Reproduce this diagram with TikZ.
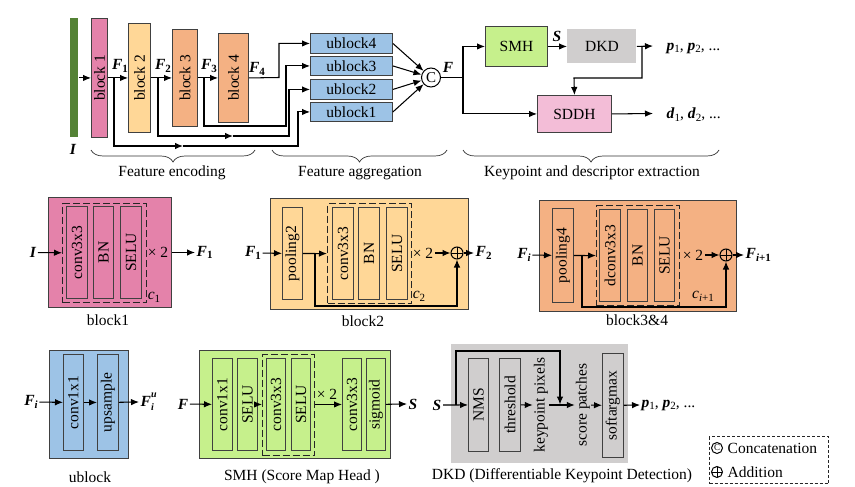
\documentclass[tikz,border=0pt]{standalone}
\usepackage{fontspec}
\setmainfont{Liberation Serif}
\usetikzlibrary{arrows.meta,decorations.pathreplacing,calc}
\definecolor{gbar}{HTML}{548235}
\definecolor{pinkA}{HTML}{E482AA}
\definecolor{orL}{HTML}{FFD797}
\definecolor{sal}{HTML}{F4B183}
\definecolor{blU}{HTML}{9DC3E6}
\definecolor{grS}{HTML}{C6F08C}
\definecolor{grD}{HTML}{D0CECE}
\definecolor{pkS}{HTML}{F3BDD7}
\newcommand\bi[1]{\textbf{\textit{#1}}}
\newcommand\sbs[1]{\raisebox{-0.4ex}{\fontsize{11}{11}\selectfont #1}}
\newcommand\sps[1]{\raisebox{1.2ex}{\fontsize{10}{10}\selectfont #1}}
\newcommand\sbl[1]{\raisebox{-0.6ex}{\fontsize{10}{10}\selectfont #1}}
\newcommand\bx[7]{\node[blk,#6,minimum width={#4pt-#2pt},minimum height={#5pt-#3pt}] (#1) at (#2,#3) {#7};}
\newcommand\rt[1]{\rotatebox{90}{#1}}
\tikzset{
  arr/.style={-{Latex[length=8pt,width=6.5pt]}, line width=1.05pt},
  ln/.style={line width=1.05pt},
  blk/.style={draw=black!75, line width=0.9pt, inner sep=0pt, anchor=north west},
  dsh/.style={draw=black!85, fill=none, dash pattern=on 7pt off 3pt, line width=1.4pt},
  lbl/.style={inner sep=1.5pt},
  opl/.style={circle, draw, line width=1pt, minimum size=12pt, inner sep=0pt,
    path picture={\draw[line width=1pt] (path picture bounding box.north) -- (path picture bounding box.south)
      (path picture bounding box.east) -- (path picture bounding box.west);}},
  brc/.style={decorate, decoration={brace, mirror, amplitude=12pt}, line width=0.7pt, draw=black!80},
}
\begin{document}
\begin{tikzpicture}[x=1pt,y=-1pt,font=\fontsize{15.5}{18}\selectfont]
\useasboundingbox (0,0) rectangle (855,487);
% ---------------- top row ----------------
\bx{Ibar}{70}{18}{78}{137}{fill=gbar,draw=none}{}
\node[lbl] (Ilbl) at (73,149) {\bi{I}};
\bx{b1}{91}{18}{107}{137}{fill=pinkA}{\rt{block 1}}
\bx{b2}{128}{23}{150}{132}{fill=orL}{\rt{block 2}}
\bx{b3}{172}{29}{197}{126}{fill=sal}{\rt{block 3}}
\bx{b4}{218}{33}{248}{122}{fill=sal}{\rt{block 4}}
\node[lbl] (lF1) at (120,66) {\bi{F}\sbs{\textbf{1}}};
\node[lbl] (lF2) at (163,66) {\bi{F}\sbs{\textbf{2}}};
\node[lbl] (lF3) at (209,66) {\bi{F}\sbs{\textbf{3}}};
\node[lbl] (lF4) at (257,69) {\bi{F}\sbs{\textbf{4}}};
\bx{u4}{310}{33}{392}{53}{fill=blU}{ublock4}
\bx{u3}{310}{56}{392}{75}{fill=blU}{ublock3}
\bx{u2}{310}{79}{392}{99}{fill=blU}{ublock2}
\bx{u1}{310}{102}{392}{121}{fill=blU}{ublock1}
\draw[arr] (Ibar) -- (b1);
\draw[arr] (b1) -- (b2);
\draw[arr] (b2) -- (b3);
\draw[arr] (b3) -- (b4);
\coordinate (j1) at (114,77.5);
\coordinate (j2) at (158,77.5);
\coordinate (j3) at (204,77.5);
\coordinate (m1) at (183,146);
\coordinate (m2) at (233,136);
\draw[arr] (j1) |- (m1);
\draw[arr] (m1) -- (298,146) |- (u1.west);
\draw[arr] (j2) |- (m2);
\draw[arr] (m2) -- (289,136) |- (u2.west);
\draw[arr] (j3) |- (286,126) |- (u3.west);
\draw[arr] (b4.east) -- (279,77.5) |- (u4.west);
\node[circle,draw,line width=1pt,minimum size=19pt,inner sep=0pt] (cat) at (431,77.5) {\fontsize{15}{15}\selectfont C};
\draw[arr] (u4.east) -- (cat);
\draw[arr] (u3.east) -- (cat);
\draw[arr] (u2.east) -- (cat);
\draw[arr] (u1.east) -- (cat);
\node[lbl] (lF) at (448,67) {\bi{F}};
\coordinate (jF) at (463,77.5);
\draw[ln] (cat) -- (jF);
\bx{smh}{485}{26}{547}{66}{fill=grS}{SMH}
\bx{dkd}{567}{29}{636}{63}{fill=grD,draw=none}{DKD}
\bx{sddh}{537}{95}{611}{132}{fill=pkS}{SDDH}
\draw[arr] (jF) |- (smh.west);
\draw[arr] (jF) |- (sddh.west);
\draw[arr] (smh) -- (dkd);
\node[lbl] (lS) at (557,36) {\bi{S}};
\coordinate (pe) at (653,46);
\draw[arr] (dkd.east) -- (pe);
\node[lbl,anchor=west] (lp) at (665,48) {\bi{p}\sbs{1}, \bi{p}\sbs{2}, ...};
\coordinate (jD) at (642,46);
\draw[arr] (jD) |- (574,78) -- (sddh.north);
\coordinate (de) at (653,113.5);
\draw[arr] (sddh.east) -- (de);
\node[lbl,anchor=west] (ld) at (665,115) {\bi{d}\sbs{1}, \bi{d}\sbs{2}, ...};
% braces
\draw[brc] (91,150) -- (255,150);
\draw[brc] (272,150) -- (447,150);
\draw[brc] (463,150) -- (719,150);
\node[lbl] (t1) at (172,173) {Feature encoding};
\node[lbl] (t2) at (360,173) {Feature aggregation};
\node[lbl] (t3) at (592,173) {Keypoint and descriptor extraction};
% ---------------- block1 ----------------
\bx{B1}{48}{197}{171}{307}{fill=pinkA}{}
\bx{D1}{62}{203}{146}{302}{dsh}{}
\bx{c1a}{66}{206}{87}{298}{fill=pinkA}{\rt{conv3x3}}
\bx{c1b}{93}{206}{113}{298}{fill=pinkA}{\rt{BN}}
\bx{c1c}{120}{206}{141}{298}{fill=pinkA}{\rt{SELU}}
\node[lbl] (x21) at (158,252) {× 2};
\node[lbl] (cc1) at (154,297) {\textit{c}\sbs{1}};
\node[lbl] (I2) at (33,252.5) {\bi{I}};
\draw[arr] (I2) -- (D1);
\node[lbl,anchor=west] (F1o) at (195,252.5) {\bi{F}\sbs{\textbf{1}}};
\draw[arr] (B1.east |- F1o.west) -- (F1o.west);
\node[lbl] (cap1) at (108,320) {block1};
% ---------------- block2 ----------------
\bx{B2}{270}{198}{468}{309}{fill=orL}{}
\bx{P2}{282}{207}{302}{299}{fill=orL}{\rt{pooling2}}
\bx{D2}{327}{203}{411}{303}{dsh}{}
\bx{c2a}{332}{207}{353}{299}{fill=orL}{\rt{conv3x3}}
\bx{c2b}{358}{207}{379}{299}{fill=orL}{\rt{BN}}
\bx{c2c}{386}{207}{407}{299}{fill=orL}{\rt{SELU}}
\node[lbl] (x22) at (423,253) {× 2};
\node[opl] (op2) at (457,253) {};
\node[lbl] (cc2) at (419,296) {\textit{c}\sbs{2}};
\node[lbl] (F1i) at (253,253) {\bi{F}\sbs{\textbf{1}}};
\draw[arr] (F1i) -- (P2);
\draw[arr] (P2) -- (D2);
\coordinate (s2) at (315,253);
\draw[arr] (s2) |- (op2.south |- 0,306) -- (op2.south);
\draw[arr] (x22) -- (op2);
\node[lbl,anchor=west] (F2o) at (474,253) {\bi{F}\sbs{\textbf{2}}};
\draw[arr] (op2) -- (F2o.west);
\node[lbl] (cap2) at (363,321) {block2};
% ---------------- block3&4 ----------------
\bx{B3}{539}{200}{736}{311}{fill=sal}{}
\bx{P4}{552}{208}{573}{302}{fill=sal}{\rt{pooling4}}
\bx{D3}{596}{205}{679}{305}{dsh}{}
\bx{c3a}{599}{209}{620}{301}{fill=sal}{\rt{dconv3x3}}
\bx{c3b}{627}{209}{647}{301}{fill=sal}{\rt{BN}}
\bx{c3c}{654}{209}{674}{301}{fill=sal}{\rt{SELU}}
\node[lbl] (x23) at (693,255) {× 2};
\node[opl] (op3) at (726,255) {};
\node[lbl] (cc3) at (703,296) {\textit{c}\sbs{\textit{i}+1}};
\node[lbl] (Fii) at (524,255) {\bi{F}\sbs{\bi{i}}};
\draw[arr] (Fii) -- (P4);
\draw[arr] (P4) -- (D3);
\coordinate (s3) at (582,255);
\draw[arr] (s3) |- (op3.south |- 0,307) -- (op3.south);
\draw[arr] (x23) -- (op3);
\node[lbl,anchor=west] (F3o) at (744,255) {\bi{F}\sbs{\bi{i}\textbf{+1}}};
\draw[arr] (op3) -- (F3o.west);
\node[lbl] (cap3) at (637,320) {block3\&4};
% ---------------- ublock ----------------
\bx{UB}{49}{350}{128}{458}{fill=blU}{}
\bx{ua}{63}{354}{83}{450}{fill=blU}{\rt{conv1x1}}
\bx{ub}{97}{354}{118}{450}{fill=blU}{\rt{upsample}}
\node[lbl] (Fu1) at (31,402) {\bi{F}\sbs{\bi{i}}};
\draw[arr] (Fu1) -- (ua);
\draw[arr] (ua) -- (ub);
\node[lbl,anchor=west] (Fu2) at (139,402) {\bi{F}\rlap{\sps{\bi{u}}}\sbl{\bi{i}}};
\draw[arr] (ub) -- (Fu2.west);
\node[lbl] (cap4) at (90,477) {ublock};
% ---------------- SMH ----------------
\bx{SM}{199}{350}{390}{458}{fill=grS}{}
\bx{sa}{212}{358}{232}{450}{fill=grS}{\rt{conv1x1}}
\bx{sb}{237}{358}{257}{450}{fill=grS}{\rt{SELU}}
\bx{D4}{262}{354}{314}{455}{dsh}{}
\bx{sc}{266}{358}{285}{450}{fill=grS}{\rt{conv3x3}}
\bx{sd}{291}{358}{310}{450}{fill=grS}{\rt{SELU}}
\bx{se}{342}{358}{361}{450}{fill=grS}{\rt{conv3x3}}
\bx{sf}{366}{358}{385}{450}{fill=grS}{\rt{sigmoid}}
\node[lbl] (x24) at (327,394) {× 2};
\node[lbl] (Fs) at (183,404) {\bi{F}};
\draw[arr] (Fs) -- (sa);
\draw[arr] (sb) -- (sb -| D4.west);
\draw[arr] (D4.east |- se.west) -- (se.west);
\node[lbl,anchor=west] (Ss) at (407,404) {\bi{S}};
\draw[arr] (sf) -- (Ss.west);
\node[lbl] (cap5) at (302,477) {SMH (Score Map Head )};
% ---------------- DKD ----------------
\bx{DK}{451}{344}{628}{463}{fill=grD,draw=none}{}
\bx{nms}{468}{358}{488}{451}{fill=grD}{\rt{NMS}}
\bx{thr}{499}{358}{520}{451}{fill=grD}{\rt{threshold}}
\node[inner sep=1pt] (kp) at (541,405) {\rt{keypoint pixels}};
\node[inner sep=1pt] (sp) at (583,405) {\rt{score patches}};
\bx{sam}{602}{353}{623}{457}{fill=grD}{\rt{softargmax}}
\node[lbl] (Sd) at (437,405) {\bi{S}};
\draw[arr] (Sd) -- (nms);
\coordinate (jS) at (456,404.5);
\coordinate (jK) at (560,404.5);
\draw[arr] (jS) |- (560,351) -- (jK);
\draw[arr] (thr) -- (kp);
\draw[arr] (kp) -- (sp);
\draw[arr] (sp) -- (sam);
\node[lbl,anchor=west] (pd) at (640,405) {\bi{p}\sbs{1}, \bi{p}\sbs{2}, ...};
\draw[arr] (sam) -- (pd.west);
\node[lbl] (cap6) at (562,476) {DKD (Differentiable Keypoint Detection)};
% ---------------- legend ----------------
\node[draw=black!85, dash pattern=on 3pt off 2pt, line width=1pt, minimum width=119pt, minimum height=47pt, anchor=north west, inner sep=0pt] (leg) at (709,436) {};
\node[circle,draw,line width=1pt,minimum size=11pt,inner sep=0pt,font=\fontsize{9}{9}\selectfont] (lc) at (717,448) {C};
\node[lbl,anchor=west] (lct) at (726,448) {Concatenation};
\node[opl,minimum size=11pt] (lo) at (717,472) {};
\node[lbl,anchor=west] (lot) at (726,472) {Addition};
\end{tikzpicture}
\end{document}
